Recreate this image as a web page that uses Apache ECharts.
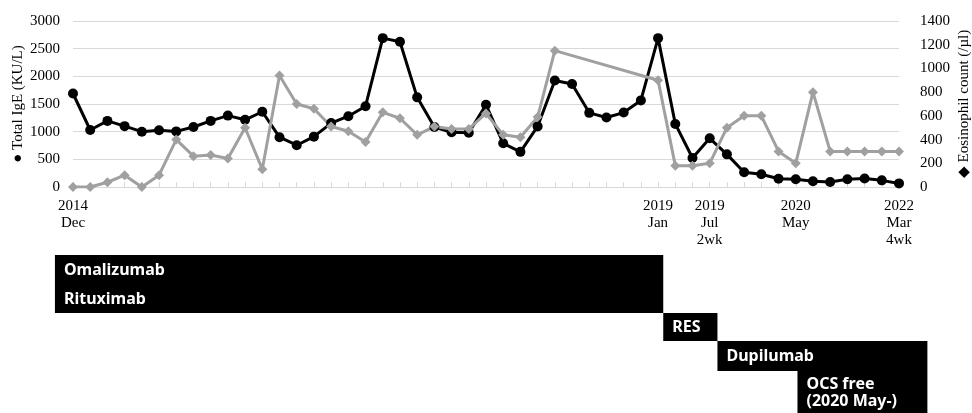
<!DOCTYPE html>
<html><head><meta charset="utf-8">
<script src="https://cdn.jsdelivr.net/npm/echarts@6/dist/echarts.min.js"></script>
<style>html,body{margin:0;padding:0;background:#fff}#c{width:972px;height:413px}</style>
</head><body><div id="c"></div>
<script>
// 49 measurement points, Dec 2014 .. Mar 2022 (4th week)
const ige = [1690,1030,1195,1100,1000,1025,1005,1085,1195,1290,1215,1360,900,755,910,1155,1280,1460,2690,2625,1620,1085,990,980,1485,790,635,1095,1925,1860,1340,1255,1345,1565,2690,1140,525,880,590,265,230,150,140,105,90,140,155,120,65];
const eos = [0,0,40,100,0,100,400,260,270,240,500,150,940,700,660,510,470,380,630,580,440,510,490,490,620,440,420,590,1150,null,null,null,null,null,900,180,180,200,500,600,600,300,200,800,300,300,300,300,300];
const categories = ige.map((v, i) => 'T' + (i + 1));
const tickLabelIndex = [0, 34, 37, 42, 48];
const tickLabelText = ['2014\nDec', '2019\nJan', '2019\nJul\n2wk', '2020\nMay', '2022\nMar\n4wk'];
const igeTicks = [0, 500, 1000, 1500, 2000, 2500, 3000];
const eosTicks = [0, 200, 400, 600, 800, 1000, 1200, 1400];

// treatment timeline (in measurement-index units)
const treatmentNames = ['Omalizumab\nRituximab', 'RES', 'Dupilumab', 'OCS free\n(2020 May-)'];
const treatmentStart = [-1.05, 34.3, 37.45, 42.1];
const treatmentEnd = [34.3, 37.45, 49.65, 49.65];
const treatmentRow = [0, 1, 2, 3];

const labelMap = {};
tickLabelIndex.forEach((k, j) => { labelMap[k] = tickLabelText[j]; });

// layout of the timeline rows (pixels relative to timeline grid top)
const rowTop = [0, 58, 86, 116];
const rowH = [58, 28, 30, 60];
const rowTextY = [29.5, 14, 15, 21.7];
const rowLineH = [29, 16, 16, 17];

const serif = 'Liberation Serif';
const plain = v => String(v);
const chart = echarts.init(document.getElementById('c'), null, {renderer: 'canvas'});
chart.setOption({
  backgroundColor: '#fff',
  animation: false,
  grid: [
    {left: 73, right: 73, top: 21, bottom: 226, containLabel: false, outerBoundsMode: 'none'},
    {left: 73, right: 73, top: 255, height: 158, containLabel: false, outerBoundsMode: 'none'}
  ],
  xAxis: [
    {
      type: 'category', gridIndex: 0, data: categories, boundaryGap: false,
      axisLine: {lineStyle: {color: '#d9d9d9', width: 1}},
      axisTick: {show: true, inside: true, length: 5, interval: 0, lineStyle: {color: '#d9d9d9'}},
      axisLabel: {
        interval: 0, margin: 11, fontFamily: serif, fontSize: 15, color: '#000', lineHeight: 17,
        hideOverlap: false,
        formatter: (v, i) => labelMap[i] || ''
      },
      splitLine: {show: false}
    },
    {type: 'value', gridIndex: 1, min: 0, max: ige.length - 1, show: false}
  ],
  yAxis: [
    {
      type: 'value', gridIndex: 0, min: igeTicks[0], max: igeTicks[igeTicks.length - 1], interval: igeTicks[1] - igeTicks[0],
      name: '\u25CF Total IgE (KU/L)', nameLocation: 'middle', nameRotate: 90, nameGap: 47, nameMoveOverlap: false,
      nameTextStyle: {fontFamily: serif, fontSize: 15, color: '#000'},
      axisLine: {show: false}, axisTick: {show: false},
      axisLabel: {margin: 13, fontFamily: serif, fontSize: 15, color: '#000', formatter: plain},
      splitLine: {lineStyle: {color: '#d9d9d9', width: 1}}
    },
    {
      type: 'value', gridIndex: 0, position: 'right', min: eosTicks[0], max: eosTicks[eosTicks.length - 1], interval: eosTicks[1] - eosTicks[0],
      name: '\u25C6 Eosinophil count (/\u00B5l)', nameLocation: 'middle', nameRotate: 90, nameGap: 58, nameMoveOverlap: false,
      nameTextStyle: {fontFamily: serif, fontSize: 15, color: '#000'},
      axisLine: {show: false}, axisTick: {show: false},
      axisLabel: {margin: 21, fontFamily: serif, fontSize: 15, color: '#000', formatter: plain},
      splitLine: {show: false}
    },
    {type: 'value', gridIndex: 1, min: 0, max: 1, show: false}
  ],
  series: [
    {
      name: 'Total IgE', type: 'line', xAxisIndex: 0, yAxisIndex: 0, data: ige,
      symbol: 'circle', symbolSize: 10, showAllSymbol: true,
      lineStyle: {color: '#000', width: 3}, itemStyle: {color: '#000'}
    },
    {
      name: 'Eosinophil count', type: 'line', xAxisIndex: 0, yAxisIndex: 1, data: eos,
      connectNulls: true, symbol: 'diamond', symbolSize: 10, showAllSymbol: true,
      lineStyle: {color: '#a0a0a0', width: 3}, itemStyle: {color: '#a0a0a0'}
    },
    {
      name: 'Treatment', type: 'custom', xAxisIndex: 1, yAxisIndex: 2, clip: false,
      data: treatmentNames.map((n, i) => [treatmentStart[i], treatmentEnd[i], treatmentRow[i]]),
      renderItem: function (params, api) {
        const s = api.coord([api.value(0), 0])[0];
        const e = api.coord([api.value(1), 0])[0];
        const r = api.value(2);
        const top = params.coordSys.y + rowTop[r];
        return {
          type: 'group',
          children: [
            {type: 'rect', shape: {x: s, y: top, width: e - s, height: rowH[r] + (r === 3 ? 20 : 0)}, style: {fill: '#000'}},
            {type: 'text', style: {
              text: treatmentNames[params.dataIndex], x: s + 9, y: top + rowTextY[r],
              verticalAlign: 'middle', align: 'left', fill: '#fff',
              fontFamily: 'Noto Sans', fontWeight: 'bold', fontSize: 16, lineHeight: rowLineH[r]
            }}
          ]
        };
      }
    }
  ]
});
</script>
</body></html>
